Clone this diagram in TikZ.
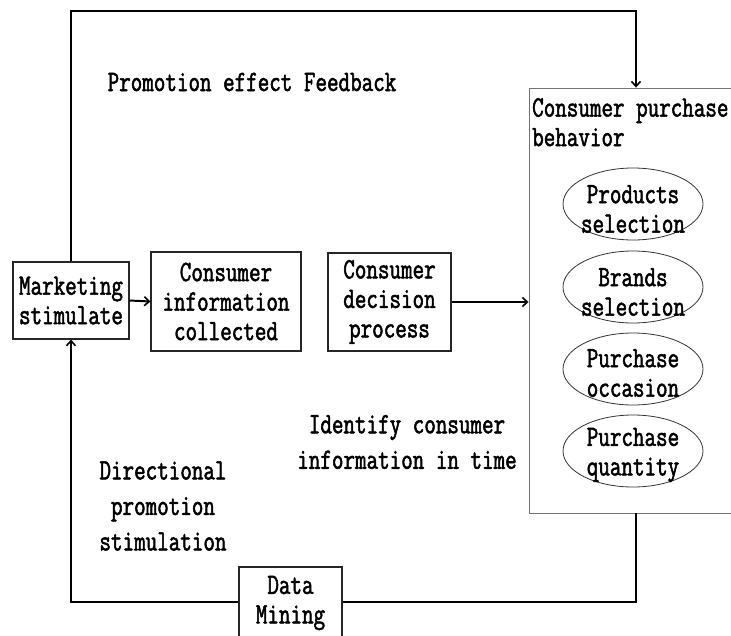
\documentclass[tikz,border=0pt]{standalone}
\usepackage{fontspec}
\setmainfont{Latin Modern Mono}[FakeStretch=0.76, FakeBold=1.8]
\usetikzlibrary{arrows.meta,shapes.geometric}

\begin{document}
\begin{tikzpicture}[x=1pt,y=-1pt,
  every node/.style={font=\fontsize{29.5}{29.5}\selectfont, inner sep=0pt},
  box/.style={draw=black!85, line width=1.1pt, align=center},
  panel/.style={draw=black!55, line width=0.9pt},
  oval/.style={ellipse, draw=black!80, line width=0.8pt, minimum width=140pt, minimum height=72pt},
  flow/.style={line width=2pt, -{Straight Barb[length=5pt,width=9pt,line width=1.6pt]}},
  feedtext/.style={align=center, font=\fontsize{29.5}{35.5}\selectfont}
]
\useasboundingbox (0,0) rectangle (731,635);

% corner points of the two loops
\coordinate (tr) at (636,10.5);
\coordinate (br) at (636,602);

% boxes of the main flow
\node[box, minimum width=116pt, minimum height=77pt] (mkt) at (71,300.5) {Marketing\\stimulate};
\node[box, minimum width=150pt, minimum height=99pt] (info) at (226,301.5) {Consumer\\information\\collected};
\node[box, minimum width=123pt, minimum height=98pt] (dec) at (389.5,302) {Consumer\\decision\\process};

% purchase behaviour panel with its four aspects
\node[panel, minimum width=230pt, minimum height=425pt] (cpb) at (644,300.5) {};
\node[anchor=north west, align=left] (cpbt) at (532,98) {Consumer purchase\\behavior};

% text sits a little below each ellipse's centre (canvas y points up)
\node[oval] (e1) at (633,204) {};
\node[align=center] (t1) at ([yshift=-5pt]e1.center) {Products\\selection};
\node[oval] (e2) at (633,287) {};
\node[align=center] (t2) at ([yshift=-5pt]e2.center) {Brands\\selection};
\node[oval] (e3) at (633,369) {};
\node[align=center] (t3) at ([yshift=-4pt]e3.center) {Purchase\\occasion};
\node[oval] (e4) at (633,451) {};
\node[align=center] (t4) at ([yshift=-4pt]e4.center) {Purchase\\quantity};

% connectors
\draw[flow] (mkt.east) -- (info.west);
\draw[flow] (dec.east) -- (dec.east -| cpb.west);
\draw[flow] (mkt.north) |- (tr) -- (tr |- cpb.north);
\draw[flow] (br |- cpb.south) -- (br) -| (mkt.south);

% data mining box sits on the lower loop
\node[box, fill=white, minimum width=103pt, minimum height=72pt] (dm) at (290.5,603) {Data\\Mining};

% loop labels
\node[anchor=base] (fb) at (252,91) {Promotion effect Feedback};
\node[feedtext] (idt) at (407,442) {Identify consumer\\information in time};
\node[feedtext] (dir) at (163,506) {Directional\\promotion\\stimulation};
\end{tikzpicture}
\end{document}
